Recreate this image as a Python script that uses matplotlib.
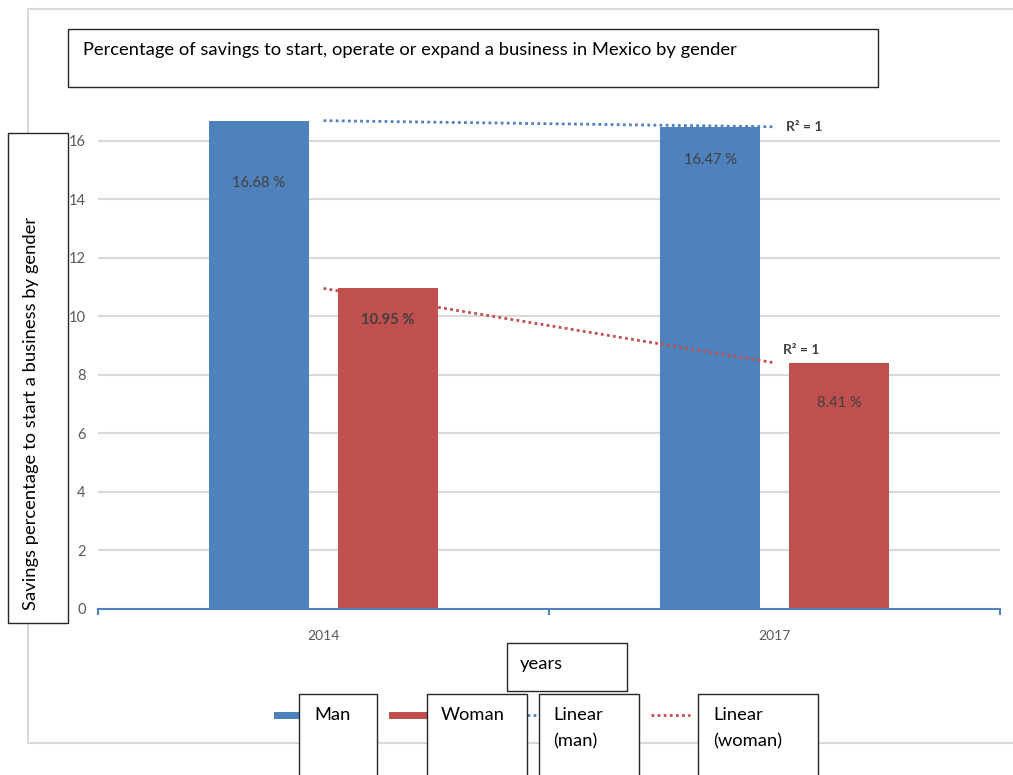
import numpy as np
import matplotlib
matplotlib.use('Agg')
import matplotlib.pyplot as plt
from matplotlib.patches import Rectangle
from matplotlib.lines import Line2D

# data
years = ['2014', '2017']
man = [16.68, 16.47]
woman = [10.95, 8.41]
man_labels = ['16.68 %', '16.47 %']
woman_labels = ['10.95 %', '8.41 %']
yticks = [0, 2, 4, 6, 8, 10, 12, 14, 16, 18]

title = 'Percentage of savings to start, operate or expand a business in Mexico by gender'
ylab = 'Savings percentage to start a business by gender'

W, H = 1013, 775
BLUE = '#4f81bd'
RED = '#c0504d'
GRID = '#d9d9d9'
narrow = ['Lato', 'DejaVu Sans']
main_font = ['Lato', 'DejaVu Sans']
FS = 13.2


def fx(x):
    return x / W


def fy(y):
    return 1 - y / H


def box(fig, x0, y0, x1, y1):
    fig.add_artist(Rectangle((fx(x0), fy(y1)), (x1 - x0) / W, (y1 - y0) / H,
                             transform=fig.transFigure, facecolor='white',
                             edgecolor='#262626', linewidth=1.0, zorder=5))


def ftext(fig, x, y, s, **kw):
    fig.text(fx(x), fy(y), s, family=main_font, fontsize=FS, color='black',
             va='center', ha='left', zorder=6, **kw)


def fline(fig, xs, ys, **kw):
    fig.add_artist(Line2D([fx(v) for v in xs], [fy(v) for v in ys],
                          transform=fig.transFigure, **kw))


fig = plt.figure(figsize=(W / 100, H / 100), dpi=100)
fig.patch.set_facecolor('white')

# outer chart border
fline(fig, [W + 5, 28, 28, W + 5], [9, 9, 743, 743], color=GRID, linewidth=1.5, zorder=1)

ax = fig.add_axes([fx(98), fy(609), (1000 - 98) / W, (609 - 82) / H])
ax.set_facecolor('none')

x = np.arange(len(years))
bw = 0.222
off = 0.143
ax.bar(x - off, man, bw, color=BLUE, zorder=3)
ax.bar(x + off, woman, bw, color=RED, zorder=3)

# linear trend lines
for vals, col in [(man, BLUE), (woman, RED)]:
    k, b = np.polyfit(x, vals, 1)
    ax.plot(x, k * x + b, linestyle=(0, (1, 1.2)), color=col, linewidth=2, zorder=4)

ax.annotate('R² = 1', (1, man[1]), xytext=(8, 0), textcoords='offset points',
            ha='left', va='center', fontsize=10, fontweight='bold', color='#404040',
            family=narrow)
ax.annotate('R² = 1', (1, woman[1]), xytext=(6, 9), textcoords='offset points',
            ha='left', va='center', fontsize=10, fontweight='bold', color='#404040',
            family=narrow)

# data labels inside bars
man_off = [-45, -24]
woman_off = [-23, -29]
for i in range(len(years)):
    ax.annotate(man_labels[i], (x[i] - off, man[i]), xytext=(0, man_off[i]),
                textcoords='offset points', ha='center', va='center', fontsize=10.6,
                color='#404040', family=narrow, zorder=5)
    ax.annotate(woman_labels[i], (x[i] + off, woman[i]), xytext=(0, woman_off[i]),
                textcoords='offset points', ha='center', va='center', fontsize=10.6,
                color='#404040', family=narrow, zorder=5,
                fontweight='bold' if i == 0 else 'normal')

# grid
for v in yticks[1:-1]:
    ax.axhline(v, color=GRID, linewidth=1.5, zorder=1)

ax.set_xlim(-0.5, 1.5)
ax.set_ylim(0, 18)
ax.set_yticks(yticks)
ax.set_yticklabels([str(v) for v in yticks], family=narrow, fontsize=10.5, color='#595959')
ax.tick_params(axis='y', length=0, pad=9)
ax.set_xticks(x)
ax.set_xticklabels(years, family=narrow, fontsize=10, color='#595959')
ax.set_xticks([-0.5, 0.5, 1.5], minor=True)
ax.tick_params(axis='x', which='major', length=0, pad=15)
ax.tick_params(axis='x', which='minor', length=4, width=1.5, color=BLUE, direction='out')
for s in ['top', 'right', 'left']:
    ax.spines[s].set_visible(False)
ax.spines['bottom'].set_color(BLUE)
ax.spines['bottom'].set_linewidth(1.5)
ax.spines['bottom'].set_zorder(4)

# title box
box(fig, 68, 29, 878, 87)
ftext(fig, 83, 50, title)

# y label box
box(fig, 8, 133, 68, 623)
fig.text(fx(31), fy(610), ylab, family=main_font, fontsize=FS, rotation=90,
         rotation_mode='anchor', ha='left', va='center', zorder=6)

# x label box
box(fig, 507, 643, 627, 691)
ftext(fig, 520, 664, 'years')

# legend
fig.add_artist(Rectangle((fx(274), fy(719)), 25 / W, 7 / H, transform=fig.transFigure,
                         facecolor=BLUE, edgecolor='none', zorder=4))
fig.add_artist(Rectangle((fx(389), fy(719)), 38 / W, 7 / H, transform=fig.transFigure,
                         facecolor=RED, edgecolor='none', zorder=4))
fline(fig, [527, 537], [715, 715], color=BLUE, linewidth=2, linestyle=(0, (1, 1.2)), zorder=4)
fline(fig, [651, 690], [715, 715], color=RED, linewidth=2, linestyle=(0, (1, 1.2)), zorder=4)

box(fig, 299, 694, 377, 790)
ftext(fig, 314, 715, 'Man')
box(fig, 427, 694, 527, 790)
ftext(fig, 441, 715, 'Woman')
box(fig, 539, 694, 639, 790)
ftext(fig, 553, 715, 'Linear')
ftext(fig, 553, 741, '(man)')
box(fig, 698, 694, 818, 790)
ftext(fig, 713, 715, 'Linear')
ftext(fig, 713, 741, '(woman)')

plt.savefig('out.png', dpi=100)
